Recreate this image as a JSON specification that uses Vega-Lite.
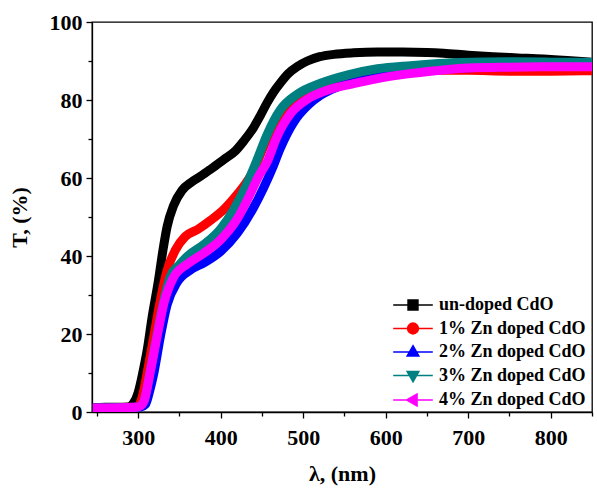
{
  "$schema": "https://vega.github.io/schema/vega-lite/v6.json",
  "width": 500,
  "height": 390,
  "autosize": {"type": "none"},
  "padding": {"left": 92, "top": 22, "right": 5, "bottom": 77},
  "background": "white",
  "config": {
    "view": {"stroke": "black", "strokeWidth": 1.3},
    "axis": {
      "grid": false,
      "domainColor": "black",
      "domainWidth": 1.3,
      "tickColor": "black",
      "tickWidth": 1.3,
      "labelFont": "Liberation Serif",
      "labelFontWeight": "bold",
      "labelFontSize": 22,
      "labelColor": "black",
      "titleFont": "Liberation Serif",
      "titleFontWeight": "bold",
      "titleFontSize": 22,
      "titleColor": "black"
    }
  },
  "data": {
    "values": [
      {"s": "un-doped CdO", "x": 245, "t": 1.0},
      {"s": "un-doped CdO", "x": 260, "t": 1.2},
      {"s": "un-doped CdO", "x": 275, "t": 1.2},
      {"s": "un-doped CdO", "x": 288, "t": 1.3},
      {"s": "un-doped CdO", "x": 294, "t": 2.2},
      {"s": "un-doped CdO", "x": 300, "t": 5.0},
      {"s": "un-doped CdO", "x": 305, "t": 9.5},
      {"s": "un-doped CdO", "x": 311, "t": 16},
      {"s": "un-doped CdO", "x": 317, "t": 24.5},
      {"s": "un-doped CdO", "x": 324, "t": 33},
      {"s": "un-doped CdO", "x": 330, "t": 41.5},
      {"s": "un-doped CdO", "x": 335, "t": 47.5},
      {"s": "un-doped CdO", "x": 343, "t": 53},
      {"s": "un-doped CdO", "x": 353, "t": 56.8},
      {"s": "un-doped CdO", "x": 365, "t": 59},
      {"s": "un-doped CdO", "x": 376, "t": 60.5},
      {"s": "un-doped CdO", "x": 388, "t": 62.3},
      {"s": "un-doped CdO", "x": 404, "t": 64.8},
      {"s": "un-doped CdO", "x": 418, "t": 67},
      {"s": "un-doped CdO", "x": 428, "t": 69.5},
      {"s": "un-doped CdO", "x": 440, "t": 73},
      {"s": "un-doped CdO", "x": 448, "t": 76},
      {"s": "un-doped CdO", "x": 456, "t": 79.2},
      {"s": "un-doped CdO", "x": 464, "t": 82},
      {"s": "un-doped CdO", "x": 472, "t": 84.3},
      {"s": "un-doped CdO", "x": 482, "t": 86.8},
      {"s": "un-doped CdO", "x": 493, "t": 88.6},
      {"s": "un-doped CdO", "x": 505, "t": 90},
      {"s": "un-doped CdO", "x": 520, "t": 91.1},
      {"s": "un-doped CdO", "x": 537, "t": 91.7},
      {"s": "un-doped CdO", "x": 561, "t": 92.1},
      {"s": "un-doped CdO", "x": 590, "t": 92.3},
      {"s": "un-doped CdO", "x": 620, "t": 92.3},
      {"s": "un-doped CdO", "x": 650, "t": 92.2},
      {"s": "un-doped CdO", "x": 670, "t": 92.0},
      {"s": "un-doped CdO", "x": 700, "t": 91.5},
      {"s": "un-doped CdO", "x": 730, "t": 91.1},
      {"s": "un-doped CdO", "x": 760, "t": 90.8},
      {"s": "un-doped CdO", "x": 791, "t": 90.5},
      {"s": "un-doped CdO", "x": 820, "t": 90.1},
      {"s": "un-doped CdO", "x": 850, "t": 89.7},

      {"s": "1% Zn doped CdO", "x": 245, "t": 1.0},
      {"s": "1% Zn doped CdO", "x": 290, "t": 1.2},
      {"s": "1% Zn doped CdO", "x": 299, "t": 1.4},
      {"s": "1% Zn doped CdO", "x": 305, "t": 4},
      {"s": "1% Zn doped CdO", "x": 309, "t": 8},
      {"s": "1% Zn doped CdO", "x": 313, "t": 12.5},
      {"s": "1% Zn doped CdO", "x": 319, "t": 19.5},
      {"s": "1% Zn doped CdO", "x": 327, "t": 28.8},
      {"s": "1% Zn doped CdO", "x": 335, "t": 36.3},
      {"s": "1% Zn doped CdO", "x": 345, "t": 41.5},
      {"s": "1% Zn doped CdO", "x": 357, "t": 45},
      {"s": "1% Zn doped CdO", "x": 372, "t": 46.8},
      {"s": "1% Zn doped CdO", "x": 388, "t": 49.2},
      {"s": "1% Zn doped CdO", "x": 404, "t": 52},
      {"s": "1% Zn doped CdO", "x": 420, "t": 55.8},
      {"s": "1% Zn doped CdO", "x": 430, "t": 58.5},
      {"s": "1% Zn doped CdO", "x": 440, "t": 62},
      {"s": "1% Zn doped CdO", "x": 456, "t": 70},
      {"s": "1% Zn doped CdO", "x": 472, "t": 76.5},
      {"s": "1% Zn doped CdO", "x": 493, "t": 81},
      {"s": "1% Zn doped CdO", "x": 521, "t": 84},
      {"s": "1% Zn doped CdO", "x": 553, "t": 86},
      {"s": "1% Zn doped CdO", "x": 590, "t": 87.2},
      {"s": "1% Zn doped CdO", "x": 650, "t": 87.6},
      {"s": "1% Zn doped CdO", "x": 700, "t": 87.6},
      {"s": "1% Zn doped CdO", "x": 750, "t": 87.4},
      {"s": "1% Zn doped CdO", "x": 800, "t": 87.4},
      {"s": "1% Zn doped CdO", "x": 850, "t": 87.5},

      {"s": "2% Zn doped CdO", "x": 245, "t": 1.0},
      {"s": "2% Zn doped CdO", "x": 295, "t": 1.2},
      {"s": "2% Zn doped CdO", "x": 303, "t": 1.3},
      {"s": "2% Zn doped CdO", "x": 309, "t": 2.0},
      {"s": "2% Zn doped CdO", "x": 314, "t": 5.5},
      {"s": "2% Zn doped CdO", "x": 319, "t": 10},
      {"s": "2% Zn doped CdO", "x": 327, "t": 19.5},
      {"s": "2% Zn doped CdO", "x": 335, "t": 27.5},
      {"s": "2% Zn doped CdO", "x": 347, "t": 33.2},
      {"s": "2% Zn doped CdO", "x": 364, "t": 36.5},
      {"s": "2% Zn doped CdO", "x": 380, "t": 38.3},
      {"s": "2% Zn doped CdO", "x": 400, "t": 41.2},
      {"s": "2% Zn doped CdO", "x": 420, "t": 45.8},
      {"s": "2% Zn doped CdO", "x": 440, "t": 52.5},
      {"s": "2% Zn doped CdO", "x": 452, "t": 57.5},
      {"s": "2% Zn doped CdO", "x": 464, "t": 63.2},
      {"s": "2% Zn doped CdO", "x": 472, "t": 67.5},
      {"s": "2% Zn doped CdO", "x": 489, "t": 74.5},
      {"s": "2% Zn doped CdO", "x": 505, "t": 78.5},
      {"s": "2% Zn doped CdO", "x": 521, "t": 81.2},
      {"s": "2% Zn doped CdO", "x": 540, "t": 83.2},
      {"s": "2% Zn doped CdO", "x": 561, "t": 84.5},
      {"s": "2% Zn doped CdO", "x": 590, "t": 85.8},
      {"s": "2% Zn doped CdO", "x": 620, "t": 86.8},
      {"s": "2% Zn doped CdO", "x": 660, "t": 87.8},
      {"s": "2% Zn doped CdO", "x": 700, "t": 88.3},
      {"s": "2% Zn doped CdO", "x": 750, "t": 88.6},
      {"s": "2% Zn doped CdO", "x": 800, "t": 88.8},
      {"s": "2% Zn doped CdO", "x": 850, "t": 89.2},

      {"s": "3% Zn doped CdO", "x": 245, "t": 1.0},
      {"s": "3% Zn doped CdO", "x": 298, "t": 1.2},
      {"s": "3% Zn doped CdO", "x": 303, "t": 1.6},
      {"s": "3% Zn doped CdO", "x": 307, "t": 2.8},
      {"s": "3% Zn doped CdO", "x": 315, "t": 11},
      {"s": "3% Zn doped CdO", "x": 323, "t": 20},
      {"s": "3% Zn doped CdO", "x": 331, "t": 28.5},
      {"s": "3% Zn doped CdO", "x": 339, "t": 34.8},
      {"s": "3% Zn doped CdO", "x": 350, "t": 37.8},
      {"s": "3% Zn doped CdO", "x": 360, "t": 40},
      {"s": "3% Zn doped CdO", "x": 380, "t": 43},
      {"s": "3% Zn doped CdO", "x": 400, "t": 47},
      {"s": "3% Zn doped CdO", "x": 416, "t": 52},
      {"s": "3% Zn doped CdO", "x": 432, "t": 58.6},
      {"s": "3% Zn doped CdO", "x": 444, "t": 64.6},
      {"s": "3% Zn doped CdO", "x": 456, "t": 71},
      {"s": "3% Zn doped CdO", "x": 472, "t": 77.4},
      {"s": "3% Zn doped CdO", "x": 493, "t": 81.5},
      {"s": "3% Zn doped CdO", "x": 521, "t": 84.3},
      {"s": "3% Zn doped CdO", "x": 553, "t": 86.4},
      {"s": "3% Zn doped CdO", "x": 590, "t": 88},
      {"s": "3% Zn doped CdO", "x": 630, "t": 88.8},
      {"s": "3% Zn doped CdO", "x": 690, "t": 89.6},
      {"s": "3% Zn doped CdO", "x": 750, "t": 89.8},
      {"s": "3% Zn doped CdO", "x": 800, "t": 89.7},
      {"s": "3% Zn doped CdO", "x": 850, "t": 89.6},

      {"s": "4% Zn doped CdO", "x": 245, "t": 1.0},
      {"s": "4% Zn doped CdO", "x": 298, "t": 1.2},
      {"s": "4% Zn doped CdO", "x": 303, "t": 1.6},
      {"s": "4% Zn doped CdO", "x": 307, "t": 2.8},
      {"s": "4% Zn doped CdO", "x": 315, "t": 10.7},
      {"s": "4% Zn doped CdO", "x": 323, "t": 19.5},
      {"s": "4% Zn doped CdO", "x": 331, "t": 27.8},
      {"s": "4% Zn doped CdO", "x": 343, "t": 34.6},
      {"s": "4% Zn doped CdO", "x": 360, "t": 38},
      {"s": "4% Zn doped CdO", "x": 380, "t": 40.8},
      {"s": "4% Zn doped CdO", "x": 400, "t": 44.2},
      {"s": "4% Zn doped CdO", "x": 420, "t": 49.5},
      {"s": "4% Zn doped CdO", "x": 436, "t": 56},
      {"s": "4% Zn doped CdO", "x": 446, "t": 60.5},
      {"s": "4% Zn doped CdO", "x": 456, "t": 64},
      {"s": "4% Zn doped CdO", "x": 468, "t": 70.5},
      {"s": "4% Zn doped CdO", "x": 485, "t": 76.6},
      {"s": "4% Zn doped CdO", "x": 505, "t": 80.2},
      {"s": "4% Zn doped CdO", "x": 529, "t": 82.5},
      {"s": "4% Zn doped CdO", "x": 561, "t": 84.2},
      {"s": "4% Zn doped CdO", "x": 590, "t": 85.5},
      {"s": "4% Zn doped CdO", "x": 620, "t": 86.5},
      {"s": "4% Zn doped CdO", "x": 660, "t": 87.5},
      {"s": "4% Zn doped CdO", "x": 700, "t": 88.2},
      {"s": "4% Zn doped CdO", "x": 750, "t": 88.4},
      {"s": "4% Zn doped CdO", "x": 800, "t": 88.5},
      {"s": "4% Zn doped CdO", "x": 850, "t": 88.5}
    ]
  },
  "layer": [
    {
      "mark": {"type": "line", "strokeWidth": 9, "interpolate": "monotone", "clip": true, "strokeJoin": "round", "strokeCap": "butt"},
      "encoding": {
        "x": {
          "field": "x", "type": "quantitative",
          "scale": {"domain": [244, 850], "nice": false, "zero": false},
          "axis": {"orient": "bottom", "title": "λ, (nm)", "values": [300, 400, 500, 600, 700, 800], "tickSize": 6, "labelPadding": 9, "titlePadding": 15, "labelFlush": false}
        },
        "y": {
          "field": "t", "type": "quantitative",
          "scale": {"domain": [0, 100], "nice": false},
          "axis": {"orient": "left", "title": "T, (%)", "values": [0, 20, 40, 60, 80, 100], "tickSize": 6, "labelPadding": 4, "titlePadding": 18, "labelFlush": false}
        },
        "color": {
          "field": "s", "type": "nominal",
          "scale": {
            "domain": ["un-doped CdO", "1% Zn doped CdO", "2% Zn doped CdO", "3% Zn doped CdO", "4% Zn doped CdO"],
            "range": ["#000000", "#ff0000", "#0000ff", "#008080", "#ff00ff"]
          },
          "legend": {
            "orient": "none",
            "legendX": 311,
            "legendY": 273,
            "title": null,
            "padding": 0,
            "labelFont": "Liberation Serif",
            "labelFontSize": 18,
            "labelFontWeight": "bold",
            "labelColor": "black",
            "symbolSize": 324,
            "symbolStrokeWidth": 1.5,
            "symbolOffset": 0,
            "labelOffset": 16,
            "rowPadding": 4.5,
            "encode": {
              "symbols": {
                "update": {
                  "shape": {"signal": "datum.value === 'un-doped CdO' ? 'M-2.2,0H2.2M-0.55,-0.55H0.55V0.55H-0.55Z' : datum.value === '1% Zn doped CdO' ? 'M-2.2,0H2.2M0.6,0A0.6,0.6 0 1,1 -0.6,0A0.6,0.6 0 1,1 0.6,0Z' : datum.value === '2% Zn doped CdO' ? 'M-2.2,0H2.2M0,-0.7L0.65,0.45L-0.65,0.45Z' : datum.value === '3% Zn doped CdO' ? 'M-2.2,0H2.2M0,0.7L0.65,-0.45L-0.65,-0.45Z' : 'M-2.2,0H2.2M-0.7,0L0.45,-0.65L0.45,0.65Z'"},
                  "fill": {"scale": "color", "field": "value"},
                  "stroke": {"scale": "color", "field": "value"},
                  "fillOpacity": {"value": 1},
                  "strokeWidth": {"value": 1.5}
                }
              }
            }
          }
        }
      }
    },
    {
      "mark": {"type": "point", "opacity": 0},
      "encoding": {
        "x": {
          "field": "x", "type": "quantitative",
          "axis": {"orient": "bottom", "title": null, "labels": false, "domain": false, "values": [250, 350, 450, 550, 650, 750, 850], "tickSize": 4}
        },
        "y": {
          "field": "t", "type": "quantitative",
          "axis": {"orient": "left", "title": null, "labels": false, "domain": false, "values": [10, 30, 50, 70, 90], "tickSize": 4}
        }
      }
    }
  ],
  "resolve": {"axis": {"x": "independent", "y": "independent"}}
}
